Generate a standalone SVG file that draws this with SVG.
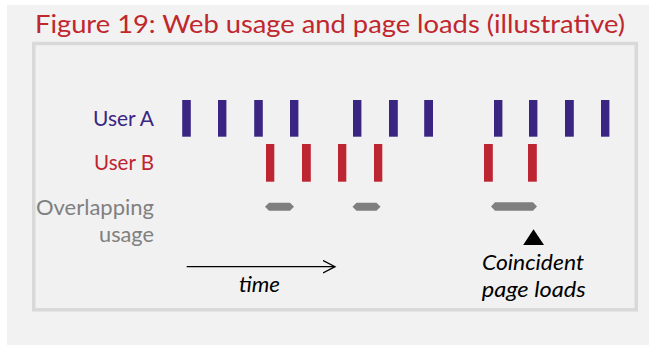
<svg xmlns="http://www.w3.org/2000/svg" width="649" height="345" viewBox="0 0 649 345">
<style>
.lbl{font-family:Lato,"Open Sans","Liberation Sans",sans-serif;font-size:22px;text-anchor:end}
.it{font-family:Lato,"Open Sans","Liberation Sans",sans-serif;font-size:22px;font-style:italic;text-anchor:middle;fill:#000}
.a{fill:#3a2682}
.b{fill:#be2532}
.ov{fill:#7f7f7f}
</style>
<defs>
<marker id="chev" viewBox="0 0 14 14" markerWidth="14" markerHeight="14" refX="12.5" refY="7" orient="auto" markerUnits="userSpaceOnUse">
<path d="M0.5,0.8 L12.5,7 L0.5,13.2" fill="none" stroke="#000" stroke-width="1.3"/>
</marker>
</defs>
<rect x="0" y="0" width="649" height="345" fill="#fff"/>
<rect x="7" y="5" width="642" height="340" fill="#f2f2f2"/>
<text id="title" x="35" y="33" font-family="Lato,'Open Sans','Liberation Sans',sans-serif" font-size="25" fill="#c0272d" textLength="590" lengthAdjust="spacingAndGlyphs">Figure 19: Web usage and page loads (illustrative)</text>
<rect x="33.75" y="43.5" width="602.5" height="266.3" fill="#f1f1f1" stroke="#d9d9d9" stroke-width="3.5"/>
<g id="userA">
<text class="lbl" x="154" y="125.7" fill="#3a2682" textLength="61" lengthAdjust="spacingAndGlyphs">User A</text>
<rect class="a" x="182.2" y="100" width="8.6" height="36.7"/>
<rect class="a" x="218" y="100" width="8.4" height="36.7"/>
<rect class="a" x="254.2" y="100" width="8.6" height="36.7"/>
<rect class="a" x="290" y="100" width="8.4" height="36.7"/>
<rect class="a" x="353" y="100" width="8.4" height="36.7"/>
<rect class="a" x="389" y="100" width="8.8" height="36.7"/>
<rect class="a" x="424.2" y="100" width="8.8" height="36.7"/>
<rect class="a" x="494" y="100" width="8.4" height="36.7"/>
<rect class="a" x="529" y="100" width="8.4" height="36.7"/>
<rect class="a" x="565" y="100" width="8.8" height="36.7"/>
<rect class="a" x="601" y="100" width="8.4" height="36.7"/>
</g>
<g id="userB">
<text class="lbl" x="154" y="170" fill="#be2532" textLength="60" lengthAdjust="spacingAndGlyphs">User B</text>
<rect class="b" x="266" y="144" width="8.3" height="37.7"/>
<rect class="b" x="302" y="144" width="8.8" height="37.7"/>
<rect class="b" x="338" y="144" width="8.3" height="37.7"/>
<rect class="b" x="374" y="144" width="8.3" height="37.7"/>
<rect class="b" x="484" y="144" width="8.8" height="37.7"/>
<rect class="b" x="528" y="144" width="8.8" height="37.7"/>
</g>
<g id="overlap">
<text class="lbl" x="154" y="215" fill="#808080" textLength="118" lengthAdjust="spacingAndGlyphs">Overlapping</text>
<text class="lbl" x="154" y="241.7" fill="#808080" textLength="55" lengthAdjust="spacingAndGlyphs">usage</text>
<polygon class="ov" points="265,206.7 269,202.7 290,202.7 294,206.7 290,210.7 269,210.7"/>
<polygon class="ov" points="352.5,206.7 356.5,202.7 376.5,202.7 380.5,206.7 376.5,210.7 356.5,210.7"/>
<polygon class="ov" points="491,206.5 495,202.3 533,202.3 537,206.5 533,210.7 495,210.7"/>
</g>
<g id="coincident">
<polygon points="533.5,229.3 544,245 523.2,245" fill="#000"/>
<text class="it" x="533" y="270" textLength="102" lengthAdjust="spacingAndGlyphs">Coincident</text>
<text class="it" x="533.7" y="297" textLength="104" lengthAdjust="spacingAndGlyphs">page loads</text>
</g>
<g id="connectors">
<line x1="186.7" y1="266.7" x2="335" y2="266.7" stroke="#000" stroke-width="1.3" marker-end="url(#chev)"/>
</g>
<g id="time">
<text class="it" x="259.5" y="291.7" textLength="41" lengthAdjust="spacingAndGlyphs">time</text>
</g>
</svg>
